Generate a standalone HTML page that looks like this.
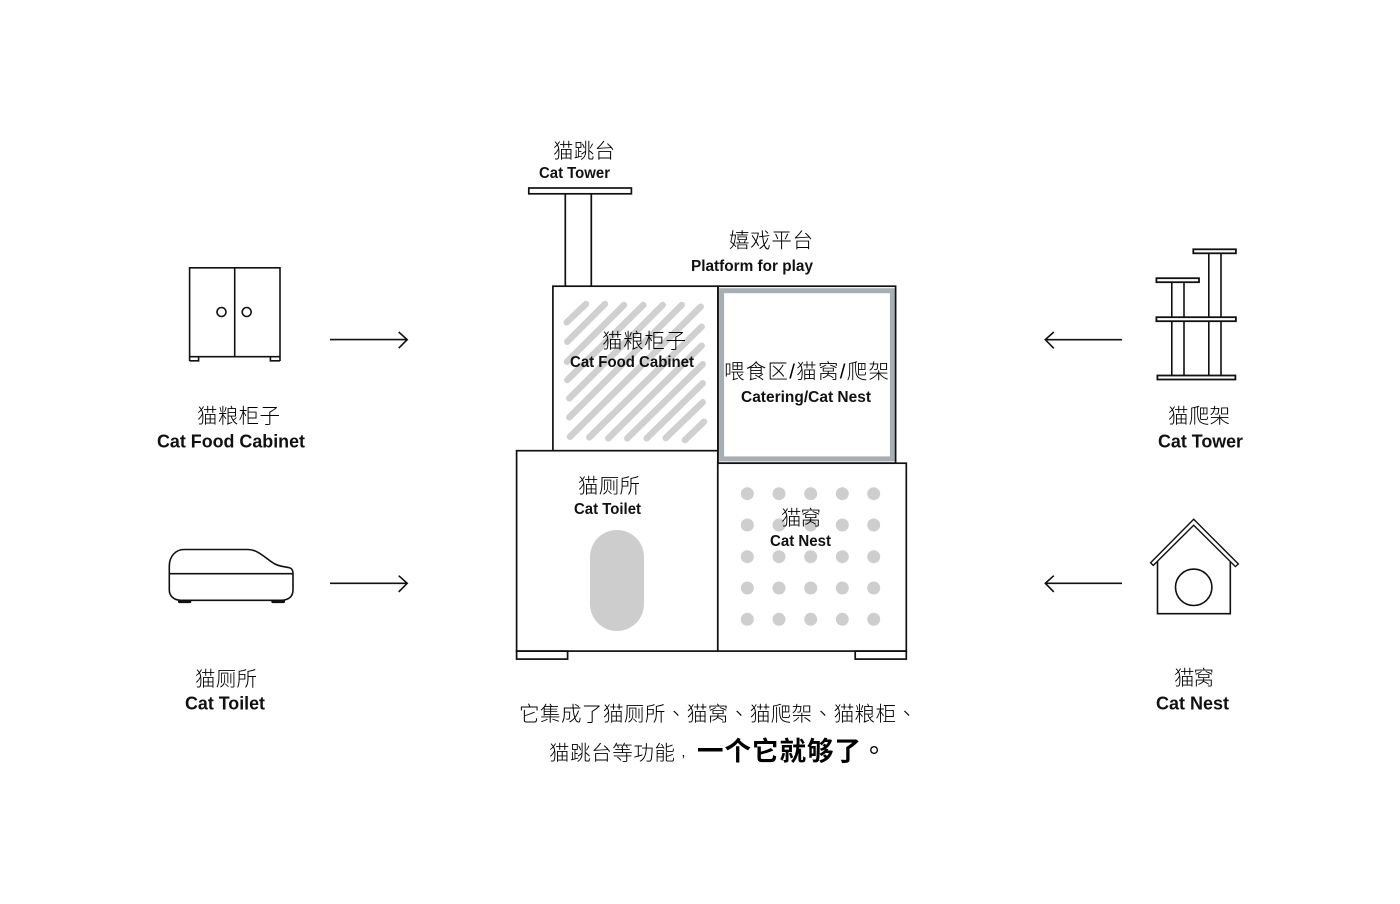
<!DOCTYPE html>
<html><head><meta charset="utf-8"><style>
html,body{margin:0;padding:0;background:#fff}
svg{display:block}
.z{font-family:"Liberation Sans","Noto Sans CJK SC",sans-serif;font-weight:300;fill:#000}
.t{font-family:"Liberation Sans","Noto Sans CJK TC",sans-serif;font-weight:300;fill:#000}
.e{font-family:"Liberation Sans",sans-serif;font-weight:700;fill:#111}
</style></head><body>
<svg width="1400" height="904" viewBox="0 0 1400 904" xmlns="http://www.w3.org/2000/svg">
<rect width="1400" height="904" fill="#fff"/>
<g fill="none" stroke="#111" stroke-width="1.7">
<!-- hatch -->
<g stroke="#d0d0d0" stroke-width="6.5" stroke-linecap="round">
<path d="M566.7 322.3L586 304M567.3 341.7L605 304M567 361.7L624 305M567.3 380L643.3 305M569.3 398.3L662.7 305M569.3 417.3L681.7 305M570 436.7L700.7 306.7M589.3 437.3L701.7 326.7M608.3 438.3L701.7 345.7M627.3 438.3L702.7 364.3M646.7 438.3L702.7 383.3M665.7 438L702.7 402.3M685 440L704 421.7"/>
</g>
<!-- center tower -->
<rect x="528.8" y="188" width="102.6" height="5.8"/>
<path d="M565.3 194V286M591.3 194V286"/>
<rect x="552.9" y="286.2" width="165" height="164.6"/>
<!-- platform -->
<rect x="721.6" y="290.7" width="170.8" height="168.2" stroke="#a8afb4" stroke-width="5"/>
<rect x="718" y="286.2" width="177.6" height="177"/>
<!-- lower boxes -->
<rect x="516.6" y="450.7" width="201.2" height="200.4" fill="#fff"/>
<rect x="717.8" y="463.2" width="188.5" height="187.9" fill="#fff"/>
<rect x="516.6" y="651.1" width="51" height="8"/>
<rect x="855.2" y="651.1" width="51.1" height="8"/>
</g>
<rect x="590" y="530" width="54" height="101" rx="27" ry="27" fill="#cdcdcd"/>
<g fill="#cecece">
<circle cx="747.3" cy="493.7" r="6.5"/><circle cx="779" cy="493.7" r="6.5"/><circle cx="810.7" cy="493.7" r="6.5"/><circle cx="842.3" cy="493.7" r="6.5"/><circle cx="873.7" cy="493.7" r="6.5"/>
<circle cx="747.3" cy="525" r="6.5"/><circle cx="779" cy="525" r="6.5"/><circle cx="810.7" cy="525" r="6.5"/><circle cx="842.3" cy="525" r="6.5"/><circle cx="873.7" cy="525" r="6.5"/>
<circle cx="747.3" cy="556.7" r="6.5"/><circle cx="779" cy="556.7" r="6.5"/><circle cx="810.7" cy="556.7" r="6.5"/><circle cx="842.3" cy="556.7" r="6.5"/><circle cx="873.7" cy="556.7" r="6.5"/>
<circle cx="747.3" cy="588" r="6.5"/><circle cx="779" cy="588" r="6.5"/><circle cx="810.7" cy="588" r="6.5"/><circle cx="842.3" cy="588" r="6.5"/><circle cx="873.7" cy="588" r="6.5"/>
<circle cx="747.3" cy="619.3" r="6.5"/><circle cx="779" cy="619.3" r="6.5"/><circle cx="810.7" cy="619.3" r="6.5"/><circle cx="842.3" cy="619.3" r="6.5"/><circle cx="873.7" cy="619.3" r="6.5"/>
</g>
<g fill="none" stroke="#111" stroke-width="1.6">
<!-- cabinet icon -->
<path d="M189.6 361V267.8H280V361M189.6 356.7H280M234.7 267.8V356.7"/>
<circle cx="221.5" cy="312" r="4.5"/><circle cx="246.7" cy="312" r="4.5"/>
<path d="M189.6 360.8H198.6V356.7M280 360.8H270.4V356.7"/>
<!-- arrows -->
<path d="M330 339.6H407M398.7 332L407.2 339.6L398.7 348.2"/>
<path d="M330 583.3H407M398.7 575.7L407.2 583.3L398.7 591.9"/>
<path d="M1122 339.7H1045.5M1053.8 332L1045.3 339.7L1053.8 348.3"/>
<path d="M1122 583.3H1045.5M1053.8 575.7L1045.3 583.3L1053.8 591.9"/>
<!-- litter icon -->
<path d="M169.3 573.7V566C169.3 556 176 549.5 184 549.5H248C258 549.5 265 558 274 563.5C281 567.5 288 566.5 291 568.5C292.6 569.6 293 571.5 293 574V590C293 597 288 600.3 281 600.3H181C174 600.3 169.3 596 169.3 590Z"/>
<path d="M169.3 573.7H293"/>
<!-- tower icon -->
<path d="M1171.8 282.2V375.5M1184 282.2V375.5M1208.8 253.3V375.5M1221 253.3V375.5"/>
<g fill="#fff" stroke-width="1.8">
<rect x="1193.3" y="249.3" width="42.6" height="4"/>
<rect x="1156.4" y="278.2" width="42.6" height="4"/>
<rect x="1156.4" y="317.2" width="79.5" height="4"/>
<rect x="1157.4" y="375.5" width="78" height="4"/>
</g>
<!-- house icon -->
<path d="M1193.7 519.3L1238.4 564L1235.4 566.6L1193.7 525.2L1153.3 565.4L1150.6 562.8Z" stroke-width="1.4"/>
<path d="M1157.5 561.5V613.7H1230.3V561.5"/>
<circle cx="1193.7" cy="587.3" r="18.2"/>
</g>
<path d="M178 600.3h13.3v1.2a1.6 1.6 0 0 1-1.6 1.6h-10a1.6 1.6 0 0 1-1.7-1.6zM271.3 600.3H285v1.2a1.6 1.6 0 0 1-1.6 1.6h-10.4a1.6 1.6 0 0 1-1.7-1.6z" fill="#111"/>
<!-- labels -->
<g font-size="20.5">
<text class="z" x="553" y="158" textLength="62">猫跳台</text>
<text class="z" x="729" y="247.5" textLength="84">嬉戏平台</text>
<text class="z" x="602" y="348" textLength="84">猫粮柜子</text>
<text class="z" x="724" y="378.5" textLength="165">喂食区/猫窝/爬架</text>
<text class="z" x="578" y="493" textLength="62">猫厕所</text>
<text class="z" x="781" y="525" textLength="40">猫窝</text>
<text class="z" x="197" y="423" textLength="83">猫粮柜子</text>
<text class="z" x="195" y="686" textLength="62">猫厕所</text>
<text class="z" x="1168" y="423" textLength="62">猫爬架</text>
<text class="z" x="1174" y="685" textLength="40">猫窝</text>
<text class="t" x="519" y="721" textLength="398">它集成了猫厕所、猫窝、猫爬架、猫粮柜、</text>
<text class="z" x="549" y="760" textLength="126">猫跳台等功能</text>
</g>
<text class="z" x="681.5" y="756.5" font-size="14">,</text>
<text class="z" x="697" y="760.5" font-size="26.5" style="font-weight:700" textLength="164">一个它就够了</text>
<text class="t" x="861" y="760" font-size="26" style="font-weight:400">。</text>
<g font-size="15.5" lengthAdjust="spacingAndGlyphs">
<text class="e" x="539" y="178" textLength="71" lengthAdjust="spacingAndGlyphs">Cat Tower</text>
<text class="e" x="691" y="271" textLength="122" lengthAdjust="spacingAndGlyphs">Platform for play</text>
<text class="e" x="570" y="367" textLength="124" lengthAdjust="spacingAndGlyphs">Cat Food Cabinet</text>
<text class="e" x="741" y="402" textLength="130" lengthAdjust="spacingAndGlyphs">Catering/Cat Nest</text>
<text class="e" x="574" y="514" textLength="67" lengthAdjust="spacingAndGlyphs">Cat Toilet</text>
<text class="e" x="770" y="546" textLength="61" lengthAdjust="spacingAndGlyphs">Cat Nest</text>
</g>
<g font-size="18.5">
<text class="e" x="157" y="447.5" textLength="148" lengthAdjust="spacingAndGlyphs">Cat Food Cabinet</text>
<text class="e" x="185" y="709.5" textLength="80" lengthAdjust="spacingAndGlyphs">Cat Toilet</text>
<text class="e" x="1158" y="447.5" textLength="85" lengthAdjust="spacingAndGlyphs">Cat Tower</text>
<text class="e" x="1156" y="709.5" textLength="73" lengthAdjust="spacingAndGlyphs">Cat Nest</text>
</g>
</svg>
</body></html>
